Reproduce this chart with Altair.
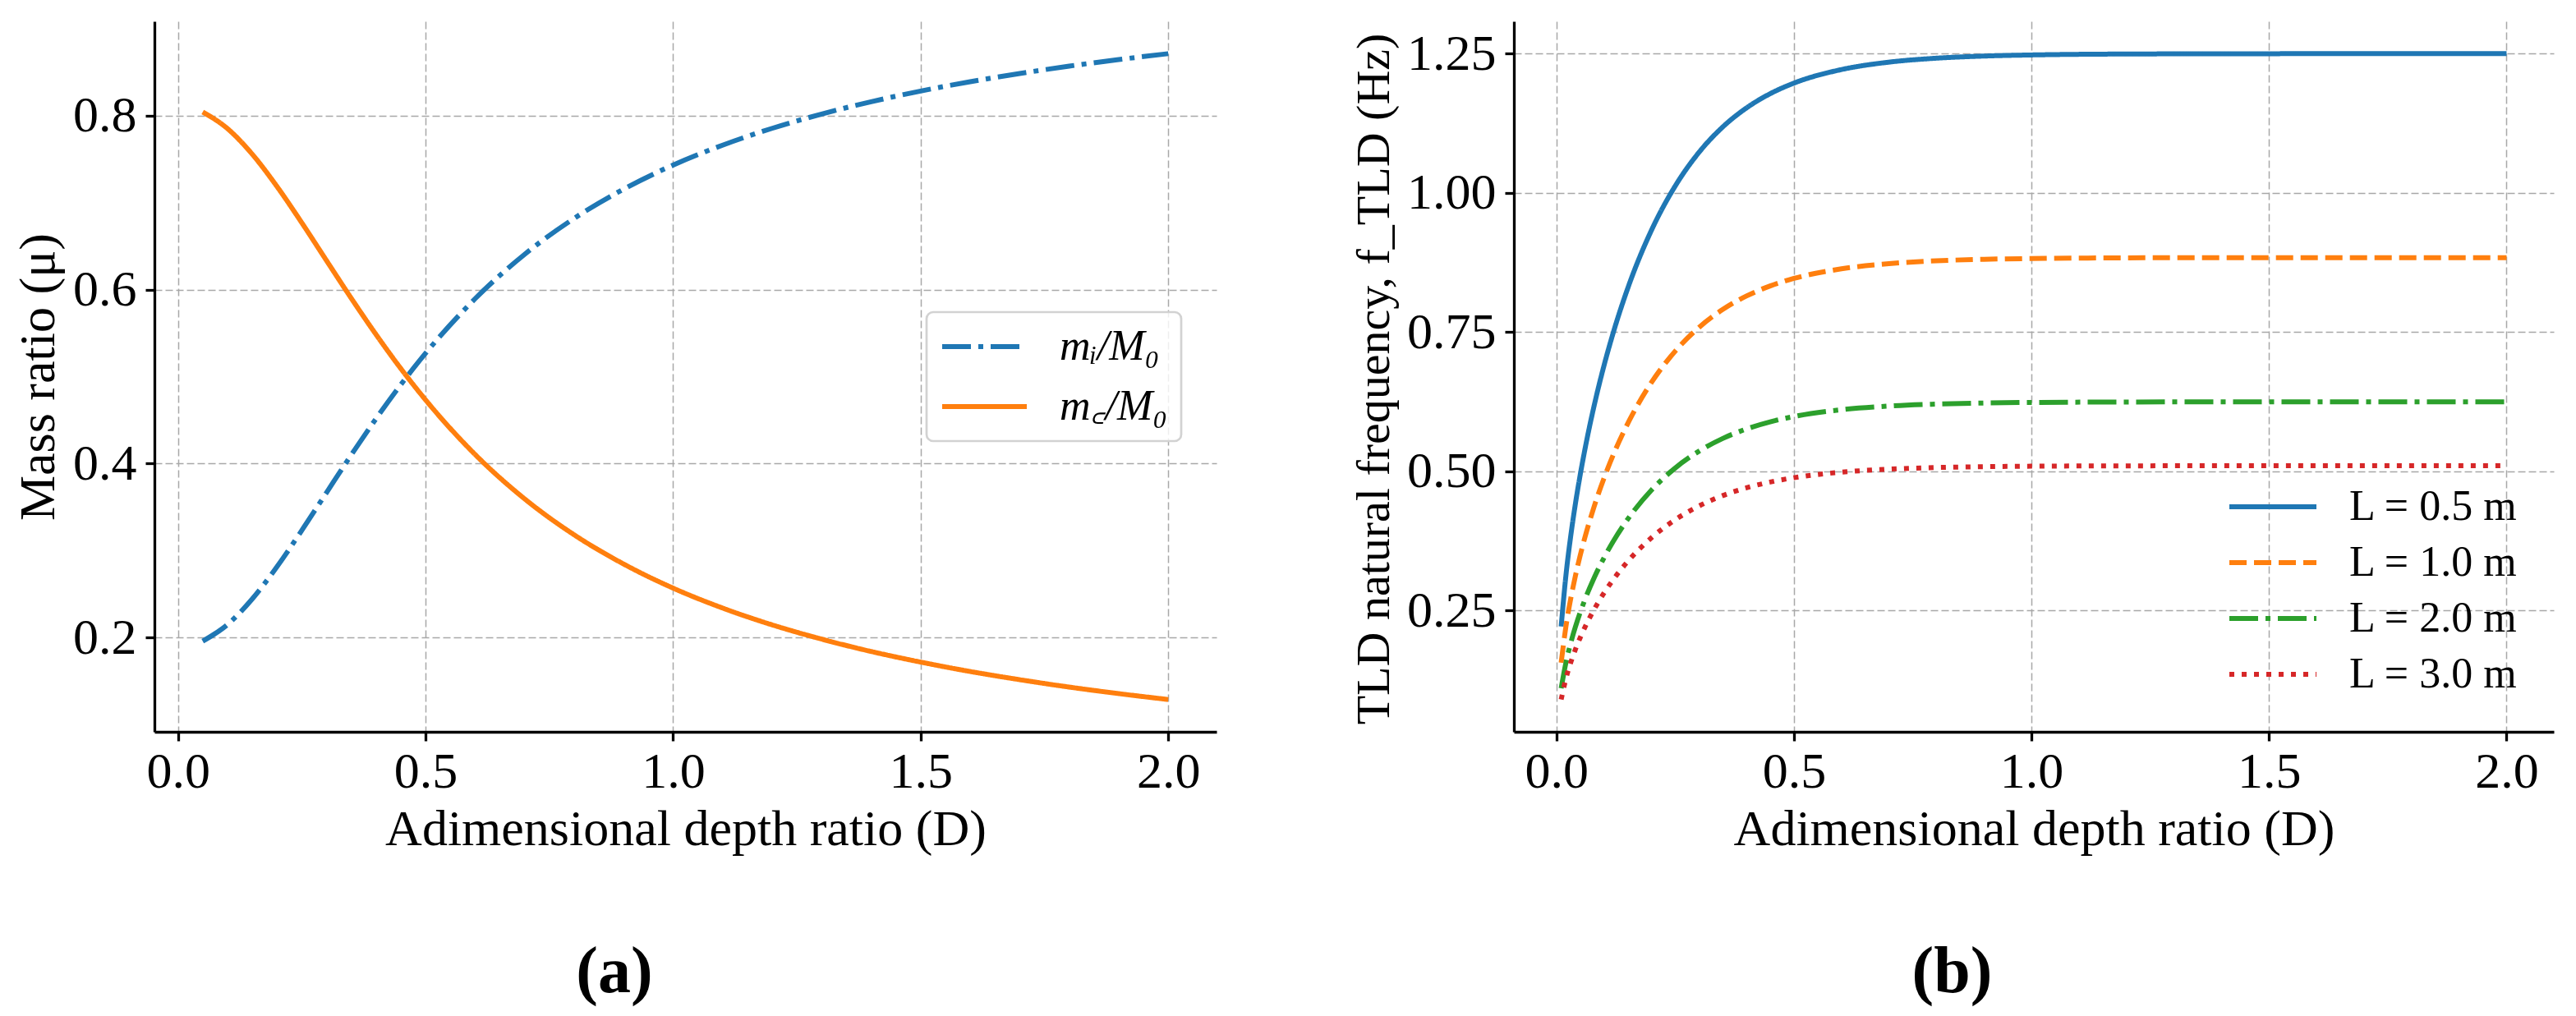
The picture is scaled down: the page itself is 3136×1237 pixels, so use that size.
import altair as alt
import pandas as pd

# (a) mass ratios against adimensional depth ratio D
D_MASS = [0.05, 0.1, 0.15, 0.2, 0.25, 0.3, 0.35, 0.4, 0.45, 0.5, 0.6, 0.7, 0.8,
          0.9, 1.0, 1.1, 1.2, 1.3, 1.4, 1.5, 1.6, 1.7, 1.8, 1.9, 2.0]
MI_M0 = [0.1960, 0.2151, 0.2445, 0.2816, 0.3232, 0.3667, 0.4100, 0.4516, 0.4907,
         0.5267, 0.5894, 0.6404, 0.6817, 0.7153, 0.7430, 0.7659, 0.7852, 0.8016,
         0.8158, 0.8280, 0.8388, 0.8482, 0.8567, 0.8642, 0.8710]
MC_M0 = [0.8040, 0.7849, 0.7555, 0.7184, 0.6768, 0.6333, 0.5900, 0.5484, 0.5093,
         0.4733, 0.4106, 0.3596, 0.3183, 0.2847, 0.2570, 0.2341, 0.2148, 0.1984,
         0.1842, 0.1720, 0.1612, 0.1518, 0.1433, 0.1358, 0.1290]
MASS_NAMES = ["mᵢ/M₀", "m꜀/M₀"]

# (b) TLD natural frequency against D for four tank lengths
D_FREQ = [0.01, 0.02, 0.03, 0.04, 0.05, 0.06, 0.08, 0.1, 0.12, 0.15, 0.2, 0.25,
          0.3, 0.35, 0.4, 0.45, 0.5, 0.6, 0.7, 0.8, 0.9, 1.0, 1.2, 1.4, 1.6, 1.8, 2.0]
F_L05 = [0.2214, 0.3130, 0.3830, 0.4418, 0.4932, 0.5393, 0.6200, 0.6892, 0.7498,
         0.8281, 0.9325, 1.0119, 1.0723, 1.1179, 1.1521, 1.1777, 1.1967, 1.2210,
         1.2343, 1.2414, 1.2452, 1.2472, 1.2489, 1.2493, 1.2495, 1.2495, 1.2495]
F_L10 = [0.1566, 0.2213, 0.2709, 0.3124, 0.3488, 0.3814, 0.4384, 0.4873, 0.5302,
         0.5855, 0.6594, 0.7155, 0.7582, 0.7904, 0.8146, 0.8327, 0.8462, 0.8634,
         0.8727, 0.8778, 0.8805, 0.8819, 0.8831, 0.8834, 0.8835, 0.8835, 0.8835]
F_L20 = [0.1107, 0.1565, 0.1915, 0.2209, 0.2466, 0.2697, 0.3100, 0.3446, 0.3749,
         0.4140, 0.4662, 0.5059, 0.5361, 0.5589, 0.5760, 0.5888, 0.5983, 0.6105,
         0.6171, 0.6207, 0.6226, 0.6236, 0.6244, 0.6247, 0.6247, 0.6248, 0.6248]
F_L30 = [0.0904, 0.1278, 0.1564, 0.1804, 0.2013, 0.2202, 0.2531, 0.2814, 0.3061,
         0.3381, 0.3807, 0.4131, 0.4377, 0.4564, 0.4703, 0.4808, 0.4885, 0.4985,
         0.5039, 0.5068, 0.5083, 0.5092, 0.5098, 0.5100, 0.5101, 0.5101, 0.5101]
FREQ_NAMES = ["L = 0.5 m", "L = 1.0 m", "L = 2.0 m", "L = 3.0 m"]

SERIF = "Liberation Serif"
LW = 6


def panel_title(text):
    return alt.TitleParams(text, orient="bottom", anchor="middle", frame="bounds",
                           font=SERIF, fontSize=80, fontWeight="bold", offset=105)


def mass_chart():
    df = pd.concat([
        pd.DataFrame({"D": D_MASS, "mu": MI_M0, "series": MASS_NAMES[0]}),
        pd.DataFrame({"D": D_MASS, "mu": MC_M0, "series": MASS_NAMES[1]}),
    ])
    leg = alt.Legend(
        title=None, orient="none", legendX=940, legendY=354,
        symbolType="stroke", symbolSize=10600, symbolStrokeWidth=LW,
        labelFont=SERIF, labelFontSize=52, labelFontStyle="italic", labelLimit=400,
        labelOffset=37, clipHeight=52, rowPadding=21, padding=16,
        strokeColor="#d2d2d2", fillColor="rgba(255,255,255,0.8)", cornerRadius=8,
    )
    return (
        alt.Chart(df)
        .mark_line(strokeWidth=LW, strokeCap="butt", interpolate="monotone")
        .encode(
            x=alt.X("D:Q",
                    scale=alt.Scale(domain=[-0.0475, 2.0975], nice=False, zero=False),
                    axis=alt.Axis(values=[0, 0.5, 1.0, 1.5, 2.0], format=".1f",
                                  title="Adimensional depth ratio (D)", labelPadding=7,
                                  titleX=646.5, titleY=137, titleBaseline="alphabetic")),
            y=alt.Y("mu:Q",
                    scale=alt.Scale(domain=[0.0919, 0.9081], nice=False, zero=False),
                    axis=alt.Axis(values=[0.2, 0.4, 0.6, 0.8], format=".1f",
                                  title="Mass ratio (μ)", labelPadding=11,
                                  titleX=-123, titleY=432.5, titleAngle=270,
                                  titleBaseline="alphabetic")),
            color=alt.Color("series:N", sort=MASS_NAMES,
                            scale=alt.Scale(domain=MASS_NAMES, range=["#1f77b4", "#ff7f0e"]),
                            legend=leg),
            strokeDash=alt.StrokeDash("series:N", sort=MASS_NAMES,
                                      scale=alt.Scale(domain=MASS_NAMES,
                                                      range=[[35, 9, 6, 9], [1, 0]]),
                                      legend=leg),
        )
        .properties(width=1293, height=865, title=panel_title("(a)"))
    )


def freq_chart():
    df = pd.concat([
        pd.DataFrame({"D": D_FREQ, "f": vals, "series": name})
        for name, vals in zip(FREQ_NAMES, [F_L05, F_L10, F_L20, F_L30])
    ])
    leg = alt.Legend(
        title=None, orient="none", legendX=868, legendY=565,
        symbolType="stroke", symbolSize=11236, symbolStrokeWidth=LW,
        labelFont=SERIF, labelFontSize=52, labelLimit=400, labelOffset=37,
        clipHeight=52, rowPadding=16, padding=0, strokeColor="transparent",
    )
    return (
        alt.Chart(df)
        .mark_line(strokeWidth=LW, strokeCap="butt", interpolate="monotone")
        .encode(
            x=alt.X("D:Q",
                    scale=alt.Scale(domain=[-0.0895, 2.0995], nice=False, zero=False),
                    axis=alt.Axis(values=[0, 0.5, 1.0, 1.5, 2.0], format=".1f",
                                  title="Adimensional depth ratio (D)", labelPadding=7,
                                  titleX=633, titleY=137, titleBaseline="alphabetic")),
            y=alt.Y("f:Q",
                    scale=alt.Scale(domain=[0.0325, 1.3075], nice=False, zero=False),
                    axis=alt.Axis(values=[0.25, 0.5, 0.75, 1.0, 1.25], format=".2f",
                                  title="TLD natural frequency, f_TLD (Hz)", labelPadding=11,
                                  titleFontSize=58, titleX=-153, titleY=435,
                                  titleAngle=270, titleBaseline="alphabetic")),
            color=alt.Color("series:N", sort=FREQ_NAMES,
                            scale=alt.Scale(domain=FREQ_NAMES,
                                            range=["#1f77b4", "#ff7f0e", "#2ca02c", "#d62728"]),
                            legend=leg),
            strokeDash=alt.StrokeDash("series:N", sort=FREQ_NAMES,
                                      scale=alt.Scale(domain=FREQ_NAMES,
                                                      range=[[1, 0], [21, 9], [35, 9, 6, 9], [6, 9]]),
                                      legend=leg),
        )
        .properties(width=1266, height=865, title=panel_title("(b)"))
    )


chart = (
    alt.hconcat(mass_chart(), freq_chart(), spacing=162)
    .resolve_scale(color="independent", strokeDash="independent")
    .properties(padding={"left": 7, "top": 18, "right": 5, "bottom": 5})
    .configure_view(stroke=None)
    .configure_axis(
        labelFont=SERIF, labelFontSize=62, labelColor="black",
        titleFont=SERIF, titleFontSize=62, titleFontWeight="normal", titleColor="black",
        domainColor="black", domainWidth=3.3, tickColor="black", tickWidth=3.3,
        tickSize=11, grid=True, gridColor="#a8a8a8", gridWidth=1.5, gridDash=[9, 4],
    )
    .configure_legend(strokeWidth=2.7, labelColor="black")
)

chart.save("out.html", embed_options={"renderer": "svg", "actions": False})
